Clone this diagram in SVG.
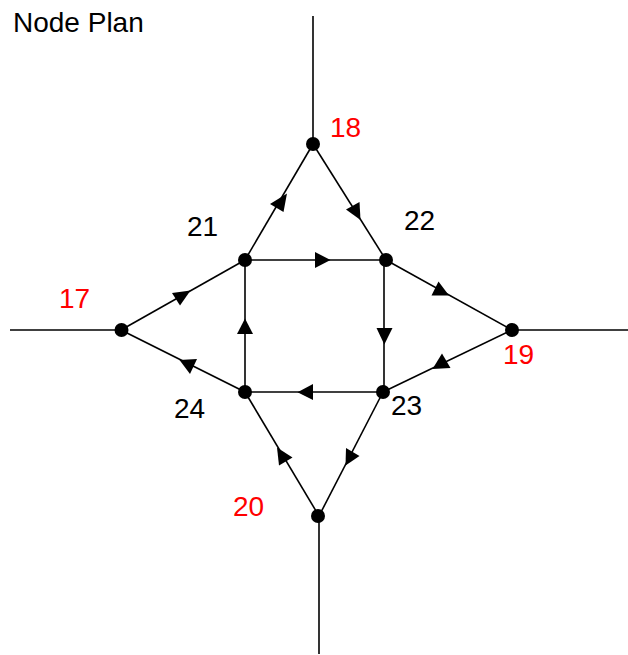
<svg xmlns="http://www.w3.org/2000/svg" width="628" height="655" viewBox="0 0 628 655">
<style>
text{font-family:"Liberation Sans",Arial,sans-serif;font-size:28px}
.r{fill:#ff0000}.k{fill:#000}
.l{stroke:#000;stroke-width:1.6;fill:none}
.a{fill:#000;stroke:none}
circle{fill:#000}
</style>
<rect width="628" height="655" fill="#fff"/>
<text class="k" x="13" y="32">Node Plan</text>
<g id="connectors">
<path class="l" d="M313 16V144"/><path class="l" d="M319 516V654"/><path class="l" d="M10 330H121"/><path class="l" d="M512 330H628"/>
<path class="l" d="M245 260L313 144"/><path class="l" d="M313 144L386 260"/><path class="l" d="M245 260H386"/>
<path class="l" d="M384 260V392"/><path class="l" d="M245 392V260"/><path class="l" d="M383 392H245"/>
<path class="l" d="M383 392L319 516"/><path class="l" d="M319 516L245 392"/>
<path class="l" d="M121 330L245 260"/><path class="l" d="M245 392L121 330"/>
<path class="l" d="M386 260L512 330"/><path class="l" d="M512 330L383 392"/>
<polygon class="a" points="287,193.500 270,204 283.500,212"/>
<polygon class="a" points="360.500,220 346,209.500 359.500,202"/>
<polygon class="a" points="330.500,260 315,252 315,268"/>
<polygon class="a" points="297.500,392.300 313,384 313,400"/>
<polygon class="a" points="345.500,465.500 346,448 359.500,456"/>
<polygon class="a" points="277,447.500 279,465.500 292.500,457.500"/>
<polygon class="a" points="190.500,290.500 172,293 180,305.500"/>
<polygon class="a" points="179.500,360 197,359 190,374"/>
<polygon class="a" points="449,295.500 438.500,281.500 431.500,295.500"/>
<polygon class="a" points="432.500,369 442,353.500 450.500,368"/>
<polygon class="a" points="245,318.500 237,334 253,334"/>
<polygon class="a" points="384.300,344.500 376.500,328 392.500,328"/>
</g>
<g id="n17"><circle cx="121.500" cy="330" r="7"/><text class="r" x="59" y="308">17</text></g>
<g id="n18"><circle cx="313" cy="144" r="7"/><text class="r" x="330" y="136.500">18</text></g>
<g id="n19"><circle cx="512" cy="330" r="7"/><text class="r" x="503" y="364">19</text></g>
<g id="n20"><circle cx="318" cy="516" r="7"/><text class="r" x="233" y="515.500">20</text></g>
<g id="n21"><circle cx="245" cy="260" r="7"/><text class="k" x="187" y="236">21</text></g>
<g id="n22"><circle cx="386" cy="260" r="7"/><text class="k" x="404" y="229.500">22</text></g>
<g id="n23"><circle cx="383" cy="392" r="7"/><text class="k" x="391" y="415">23</text></g>
<g id="n24"><circle cx="245" cy="392" r="7"/><text class="k" x="174" y="418">24</text></g>
</svg>
